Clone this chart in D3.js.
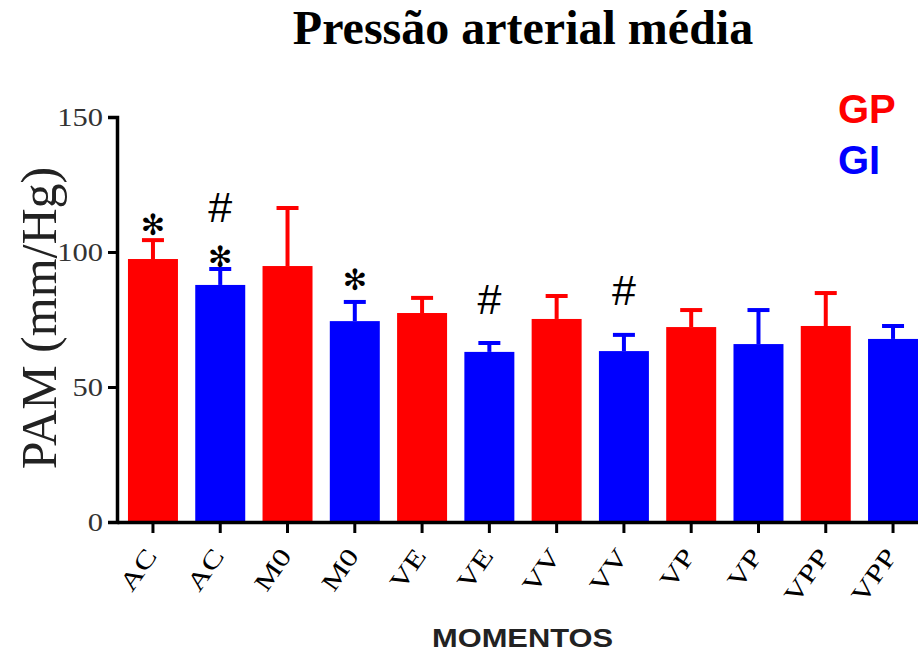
<!DOCTYPE html>
<html>
<head>
<meta charset="utf-8">
<script src="https://cdn.jsdelivr.net/npm/d3@7"></script>
<style>
  body { margin: 0; background: #fff; }
  svg { display: block; }
</style>
</head>
<body>
<svg id="chart"></svg>
<script>
// Data
const moments = ['AC', 'AC', 'M0', 'M0', 'VE', 'VE', 'VV', 'VV', 'VP', 'VP', 'VPP', 'VPP'];
const groups = ['GP', 'GI', 'GP', 'GI', 'GP', 'GI', 'GP', 'GI', 'GP', 'GI', 'GP', 'GI'];
const means = [97.4, 87.8, 94.8, 74.4, 77.4, 63, 75.2, 63.3, 72.2, 65.9, 72.6, 67.8];
const errors = [7, 5.9, 21.5, 7.1, 5.6, 3.3, 8.5, 6, 6.3, 12.6, 12.2, 4.8];
// significance symbols: bar index, symbol, height in mmHg
const markBars = [0, 1, 1, 3, 5, 7];
const markSymbols = ['*', '*', '#', '*', '#', '#'];
const markLevels = [110.5, 98.5, 116.7, 90, 82.6, 85.9];
const yTicks = [0, 50, 100, 150];

const width = 918;
const height = 655;
const colors = { GP: '#ff0000', GI: '#0000ff' };
const serif = '"Liberation Serif", "Times New Roman", serif';
const sans = '"Liberation Sans", Arial, sans-serif';

const svg = d3.select('#chart').attr('width', width).attr('height', height);

const x = d3.scaleBand()
  .domain(d3.range(moments.length))
  .range([117, 929])
  .paddingInner(0.257)
  .paddingOuter(0.163);

const y = d3.scaleLinear().domain([0, 150]).range([522, 117]);

// Title
svg.append('text')
  .attr('x', 523).attr('y', 44)
  .attr('text-anchor', 'middle')
  .style('font-family', serif)
  .style('font-weight', 'bold')
  .style('font-size', '48px')
  .text('Pressão arterial média');

// Bars
svg.append('g')
  .selectAll('rect')
  .data(means)
  .join('rect')
  .attr('x', (d, i) => x(i))
  .attr('y', (d) => y(d))
  .attr('width', x.bandwidth())
  .attr('height', (d) => y(0) - y(d))
  .attr('fill', (d, i) => colors[groups[i]]);

// Error bars (upper only)
const err = svg.append('g')
  .selectAll('g')
  .data(means)
  .join('g')
  .attr('stroke', (d, i) => colors[groups[i]])
  .attr('stroke-width', 4);

err.append('line')
  .attr('x1', (d, i) => x(i) + x.bandwidth() / 2)
  .attr('x2', (d, i) => x(i) + x.bandwidth() / 2)
  .attr('y1', (d) => y(d))
  .attr('y2', (d, i) => y(d + errors[i]));

err.append('line')
  .attr('x1', (d, i) => x(i) + x.bandwidth() / 2 - 11)
  .attr('x2', (d, i) => x(i) + x.bandwidth() / 2 + 11)
  .attr('y1', (d, i) => y(d + errors[i]))
  .attr('y2', (d, i) => y(d + errors[i]));

// Significance marks (centred on their level)
svg.append('g')
  .selectAll('text')
  .data(markBars)
  .join('text')
  .attr('x', (b) => x(b) + x.bandwidth() / 2)
  .attr('y', (b, k) => y(markLevels[k]) + (markSymbols[k] === '*' ? 11 : 15))
  .attr('text-anchor', 'middle')
  .style('font-family', (b, k) => (markSymbols[k] === '*' ? '"DejaVu Sans", sans-serif' : sans))
  .style('font-size', (b, k) => (markSymbols[k] === '*' ? '29px' : '43px'))
  .text((b, k) => (markSymbols[k] === '*' ? '\u273B' : '#'));

// Y axis
const yAxis = svg.append('g')
  .attr('transform', 'translate(117,0)')
  .call(d3.axisLeft(y).tickValues(yTicks).tickSize(9).tickPadding(5));
yAxis.select('.domain').attr('stroke-width', 3.5);
yAxis.selectAll('.tick line').attr('stroke-width', 3);
yAxis.selectAll('.tick text')
  .style('font-family', serif)
  .style('font-size', '25px')
  .attr('fill', '#333')
  .attr('x', -14 / 1.22)
  .attr('transform', 'scale(1.22,1)');

// X axis
const xAxis = svg.append('g')
  .attr('transform', 'translate(0,522)')
  .call(d3.axisBottom(x).tickFormat((i) => moments[i]).tickSize(11).tickSizeOuter(0));
xAxis.select('.domain').attr('stroke-width', 3.5);
xAxis.selectAll('.tick line').attr('stroke-width', 3);
xAxis.selectAll('.tick text')
  .style('font-family', serif)
  .style('font-size', '25px')
  .attr('text-anchor', 'end')
  .attr('dy', null)
  .attr('y', 0)
  .attr('transform', 'translate(5,34) rotate(-55) scale(1.3,1)');

// Axis titles
svg.append('text')
  .attr('transform', 'translate(56,318) rotate(-90)')
  .attr('text-anchor', 'middle')
  .style('font-family', serif)
  .style('font-size', '50px')
  .attr('fill', '#222')
  .text('PAM (mm/Hg)');

svg.append('text')
  .attr('x', 432).attr('y', 647)
  .attr('textLength', 181)
  .attr('lengthAdjust', 'spacingAndGlyphs')
  .style('font-family', sans)
  .style('font-weight', 'bold')
  .style('font-size', '25px')
  .attr('fill', '#222')
  .text('MOMENTOS');

// Legend
const legendNames = ['GP', 'GI'];
const legendBaselines = [123, 174];
svg.append('g')
  .selectAll('text')
  .data(legendNames)
  .join('text')
  .attr('x', 838)
  .attr('y', (d, i) => legendBaselines[i])
  .attr('fill', (d) => colors[d])
  .style('font-family', sans)
  .style('font-weight', 'bold')
  .style('font-size', '40px')
  .text((d) => d);
</script>
</body>
</html>
